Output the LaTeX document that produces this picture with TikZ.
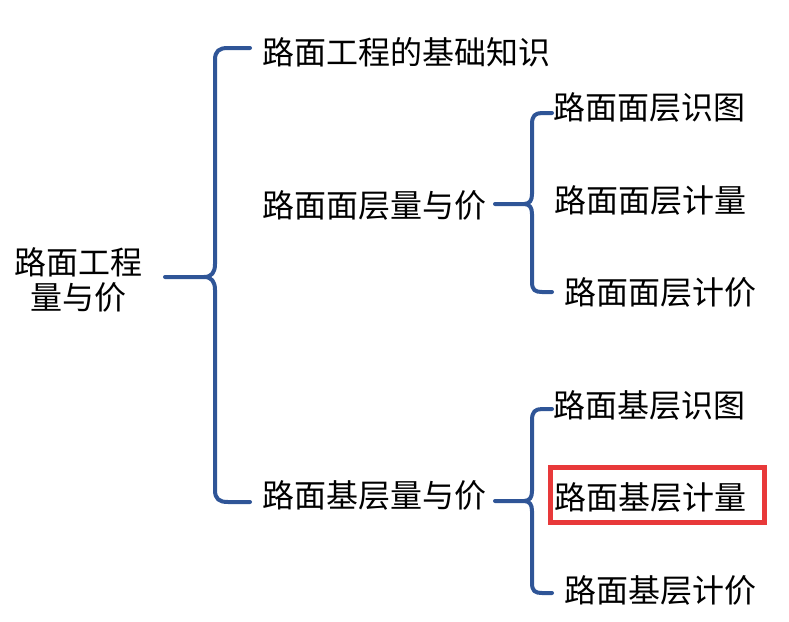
\documentclass[tikz,border=0pt]{standalone}
\usepackage{fontspec}
\setmainfont{Noto Sans CJK SC}
\begin{document}
\begin{tikzpicture}[x=1pt,y=-1pt,
  lbl/.style={anchor=base west,inner sep=0pt,font=\fontsize{32}{35}\selectfont},
  brc/.style={draw=braceblue,line width=4pt,line cap=round,line join=round},
  hl/.style={draw=hlred,line width=5pt}]
\definecolor{braceblue}{HTML}{2F5597}
\definecolor{hlred}{HTML}{E8393A}
\useasboundingbox (0,0) rectangle (789,621);
% root
\node[inner sep=0pt,align=center,font=\fontsize{32}{35}\selectfont] (root) at (78,280) {路面工程\\量与价};
% level 1
\node[lbl] (a) at (262,64) {路面工程的基础知识};
\node[lbl] (b) at (262,217) {路面面层量与价};
\node[lbl] (c) at (262,507) {路面基层量与价};
% level 2
\node[lbl] (b1) at (553,119) {路面面层识图};
\node[lbl] (b2) at (554,212) {路面面层计量};
\node[lbl] (b3) at (564,304) {路面面层计价};
\node[lbl] (c1) at (553,417) {路面基层识图};
\node[lbl] (c2) at (554,509) {路面基层计量};
\node[lbl] (c3) at (564,602) {路面基层计价};
% highlight
\draw[hl] (550,467) rectangle (764,522);
% main brace
\coordinate (s0) at (165,277);
\path[brc] (s0) -- (204,277) .. controls (212,277) and (215,272) .. (215,264)
  -- (215,60) .. controls (215,51) and (219,48) .. (228,48) -- (250,48);
\path[brc] (204,277) .. controls (212,277) and (215,282) .. (215,290)
  -- (215,490) .. controls (215,499) and (219,502) .. (228,502) -- (250,502);
% brace b
\path[brc] (495,204) -- (524,204) .. controls (530,204) and (532,200) .. (532,194)
  -- (532,124) .. controls (532,116) and (535,113) .. (542,113) -- (552,113);
\path[brc] (524,204) .. controls (530,204) and (532,208) .. (532,214)
  -- (532,282) .. controls (532,290) and (535,292) .. (542,292) -- (552,292);
% brace c
\path[brc] (495,501) -- (524,501) .. controls (530,501) and (532,497) .. (532,491)
  -- (532,420) .. controls (532,412) and (535,409) .. (542,409) -- (552,409);
\path[brc] (524,501) .. controls (530,501) and (532,505) .. (532,511)
  -- (532,583) .. controls (532,591) and (535,593) .. (542,593) -- (552,593);
\end{tikzpicture}
\end{document}
